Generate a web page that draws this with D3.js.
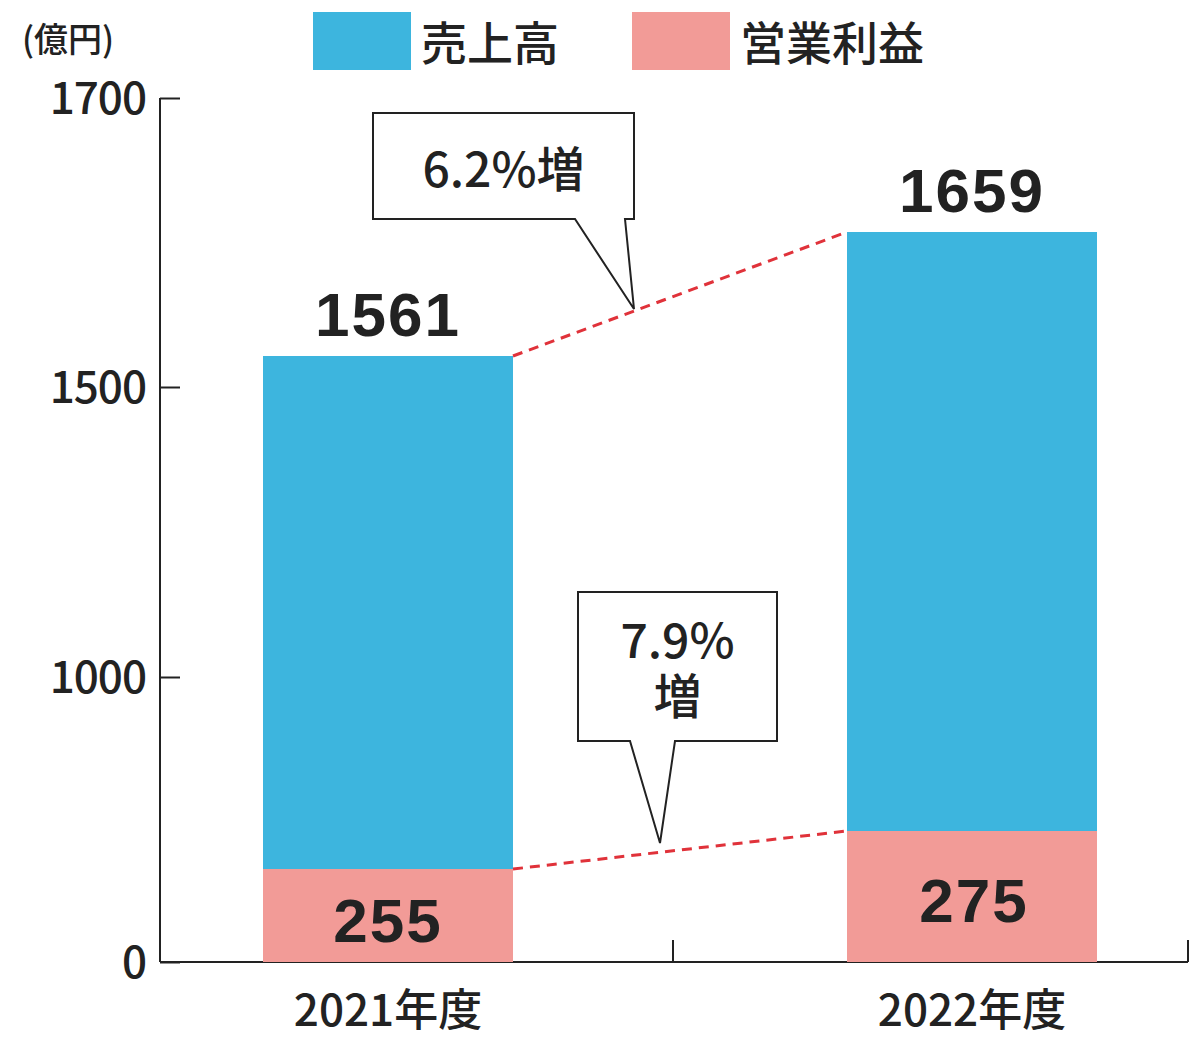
<!DOCTYPE html>
<html><head><meta charset="utf-8">
<script src="https://cdn.jsdelivr.net/npm/d3@7"></script>
<style>body{margin:0;background:#fff}svg{display:block}</style>
</head><body><div id="chart"></div>
<script>
// Illustrative chart: bars are not drawn to a linear scale, so the y scale is
// piecewise and passes through each value's drawn height.
const years     = ["2021年度", "2022年度"];
const sales     = [1561, 1659];
const profit    = [255, 275];
const yTicks    = [0, 1000, 1500, 1700];
const growth    = ["6.2%増", "7.9%増"];
const seriesNames = ["売上高", "営業利益"];

const BLUE = "#3db5de", PINK = "#f29b97", RED = "#e0323a";
const FONT = "'Noto Sans CJK JP', 'Liberation Sans', sans-serif";
const BAR_W = 250;

const svg = d3.select("#chart").append("svg").attr("width", 1200).attr("height", 1038);

const y = d3.scaleLinear()
  .domain([0, 255, 275, 1000, 1500, 1561, 1659, 1700])
  .range([962, 869, 831, 677, 387, 356, 232, 98]);

const x = d3.scalePoint().domain(years).range([388, 972]);

// axes
const yAxis = svg.append("g").attr("transform", "translate(160,0)")
  .call(d3.axisRight(y).tickValues(yTicks).tickSize(20).tickFormat(""));
yAxis.selectAll("line,path").attr("stroke", "#222").attr("stroke-width", 2);
yAxis.select(".domain").attr("d", `M0,${y(1700)}V${y(0)}`);
svg.selectAll(".ytl").data(yTicks).join("text")
  .attr("x", 146).attr("y", d => y(d) + 16).attr("text-anchor", "end")
  .attr("font-size", 44).attr("font-family", FONT).attr("font-weight", 500)
  .attr("fill", "#222").attr("letter-spacing", -1).text(d => d);

svg.append("line").attr("x1", 160).attr("x2", 1188).attr("y1", 962).attr("y2", 962)
  .attr("stroke", "#222").attr("stroke-width", 2);
[673, 1188].forEach(px => svg.append("line").attr("x1", px).attr("x2", px)
  .attr("y1", 940).attr("y2", 962).attr("stroke", "#222").attr("stroke-width", 2));

svg.selectAll(".xl").data(years).join("text")
  .attr("x", d => x(d)).attr("y", 1026).attr("text-anchor", "middle")
  .attr("font-size", 44).attr("font-family", FONT).attr("font-weight", 500)
  .attr("fill", "#222").text(d => d);

// bars
svg.selectAll(".sales").data(sales).join("rect")
  .attr("x", (d, i) => x(years[i]) - BAR_W / 2).attr("width", BAR_W)
  .attr("y", d => y(d)).attr("height", (d, i) => y(profit[i]) - y(d)).attr("fill", BLUE);
svg.selectAll(".profit").data(profit).join("rect")
  .attr("x", (d, i) => x(years[i]) - BAR_W / 2).attr("width", BAR_W)
  .attr("y", d => y(d)).attr("height", d => y(0) - y(d)).attr("fill", PINK);

// dashed connectors
[sales, profit].forEach(arr => svg.append("line")
  .attr("x1", x(years[0]) + BAR_W / 2).attr("y1", y(arr[0]))
  .attr("x2", x(years[1]) - BAR_W / 2).attr("y2", y(arr[1]))
  .attr("stroke", RED).attr("stroke-width", 3).attr("stroke-dasharray", "10,7"));

// value labels
const bold = s => s.attr("font-family", "'Liberation Sans', Arial, sans-serif")
  .attr("font-weight", "bold").attr("font-size", 62).attr("fill", "#222")
  .attr("text-anchor", "middle").attr("letter-spacing", 2);
svg.selectAll(".sv").data(sales).join("text").call(bold)
  .attr("x", (d, i) => x(years[i])).attr("y", d => y(d) - 20).text(d => d);
svg.selectAll(".pv").data(profit).join("text").call(bold)
  .attr("x", (d, i) => x(years[i]) + (i ? 2 : 0))
  .attr("y", (d, i) => i ? 922 : 942).text(d => d);

// callouts
function callout(bx, by, bw, bh, p1, tip, p2, lines) {
  svg.append("path")
    .attr("d", `M${bx},${by}H${bx + bw}V${by + bh}H${p2}L${tip[0]},${tip[1]}L${p1},${by + bh}H${bx}Z`)
    .attr("fill", "#fff").attr("stroke", "#222").attr("stroke-width", 2);
  lines.forEach((t, i) => svg.append("text")
    .attr("x", bx + bw / 2).attr("y", by + (lines.length > 1 ? 66 + i * 56 : 74))
    .attr("text-anchor", "middle").attr("font-size", 48).attr("font-family", FONT)
    .attr("font-weight", 500).attr("fill", "#222").text(t));
}
callout(373, 113, 261, 106, 575, [634, 309], 625, [growth[0]]);
callout(578, 592, 199, 149, 630, [660, 843], 675, [growth[1].replace("増", ""), "増"]);

// legend + unit
svg.append("text").attr("x", 22).attr("y", 52).attr("font-size", 34)
  .attr("font-family", FONT).attr("font-weight", 500).attr("fill", "#222").text("(億円)");
[[313, BLUE], [632, PINK]].forEach(([lx, c], i) => {
  svg.append("rect").attr("x", lx).attr("y", 12).attr("width", 98).attr("height", 58).attr("fill", c);
  svg.append("text").attr("x", lx + 108).attr("y", 60).attr("font-size", 46)
    .attr("font-family", FONT).attr("font-weight", 500).attr("fill", "#222").text(seriesNames[i]);
});
</script></body></html>
